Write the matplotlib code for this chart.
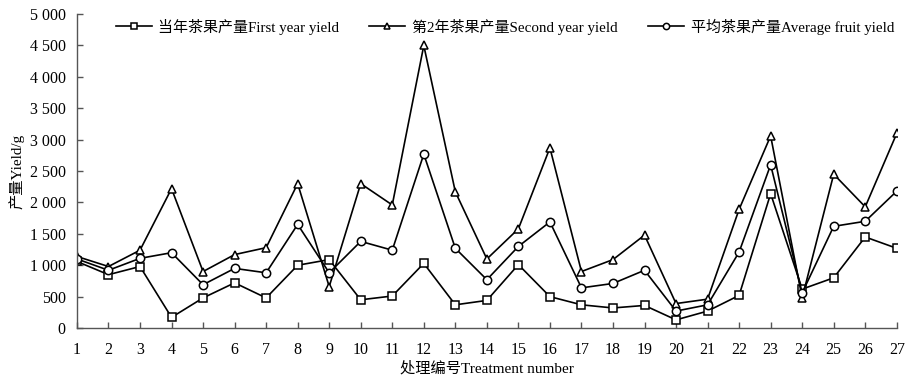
import matplotlib
matplotlib.use("Agg")
import matplotlib.pyplot as plt
import matplotlib.ticker as mticker
import numpy as np

plt.rcParams["font.family"] = ["Liberation Serif", "Noto Sans CJK SC"]
plt.rcParams["axes.unicode_minus"] = False

# Treatment numbers
treatments = list(range(1, 28))

# Yields (g)
first_year = [1060, 850, 980, 170, 480, 720, 480, 1000, 1090, 450, 510, 1030, 370, 440,
              1010, 500, 370, 320, 360, 130, 270, 520, 2140, 620, 800, 1450, 1270]
second_year = [1140, 980, 1240, 2220, 900, 1170, 1280, 2300, 660, 2300, 1960, 4500, 2170, 1100,
               1580, 2870, 900, 1090, 1480, 390, 460, 1890, 3060, 480, 2450, 1930, 3100]
average = [1100, 920, 1110, 1200, 690, 950, 880, 1650, 880, 1380, 1240, 2770, 1270, 770,
           1300, 1690, 640, 710, 920, 270, 370, 1210, 2600, 560, 1620, 1700, 2180]

labels = ["当年茶果产量First year yield", "第2年茶果产量Second year yield", "平均茶果产量Average fruit yield"]
y_ticks = [0, 500, 1000, 1500, 2000, 2500, 3000, 3500, 4000, 4500, 5000]

fig = plt.figure(figsize=(9.16, 3.81), dpi=100)
ax = fig.add_axes([0.084, 0.139, 0.895, 0.824])

style = dict(color="black", lw=1.2, markerfacecolor="white", markeredgecolor="black",
             markeredgewidth=1.1, markersize=6)
ax.plot(treatments, first_year, marker="s", label=labels[0], **style)
ax.plot(treatments, second_year, marker="^", label=labels[1], **style)
ax.plot(treatments, average, marker="o", label=labels[2], **style)

ax.set_xlim(1, 27)
ax.set_ylim(0, 5000)
ax.set_xticks(treatments)
ax.set_yticks(y_ticks)
ax.yaxis.set_major_formatter(
    mticker.FuncFormatter(lambda v, _p: f"{int(v):,}".replace(",", " "))
)

for side in ("top", "right"):
    ax.spines[side].set_visible(False)
for side in ("left", "bottom"):
    ax.spines[side].set_color("#555555")
    ax.spines[side].set_linewidth(1.0)

ax.tick_params(direction="in", length=4, width=1.0, color="#555555", labelsize=11.5)
ax.tick_params(axis="x", pad=10)
ax.tick_params(axis="y", pad=8)

ax.set_xlabel("处理编号Treatment number", fontsize=11, labelpad=2)
ax.set_ylabel("产量Yield/g", fontsize=11, labelpad=4)

leg = ax.legend(loc="upper left", bbox_to_anchor=(0.04, 1.005), ncol=3, frameon=False,
                fontsize=10.8, handlelength=2.4, handletextpad=0.45, columnspacing=2.0,
                borderaxespad=0, markerscale=0.75)

fig.savefig("out.png", dpi=100)
